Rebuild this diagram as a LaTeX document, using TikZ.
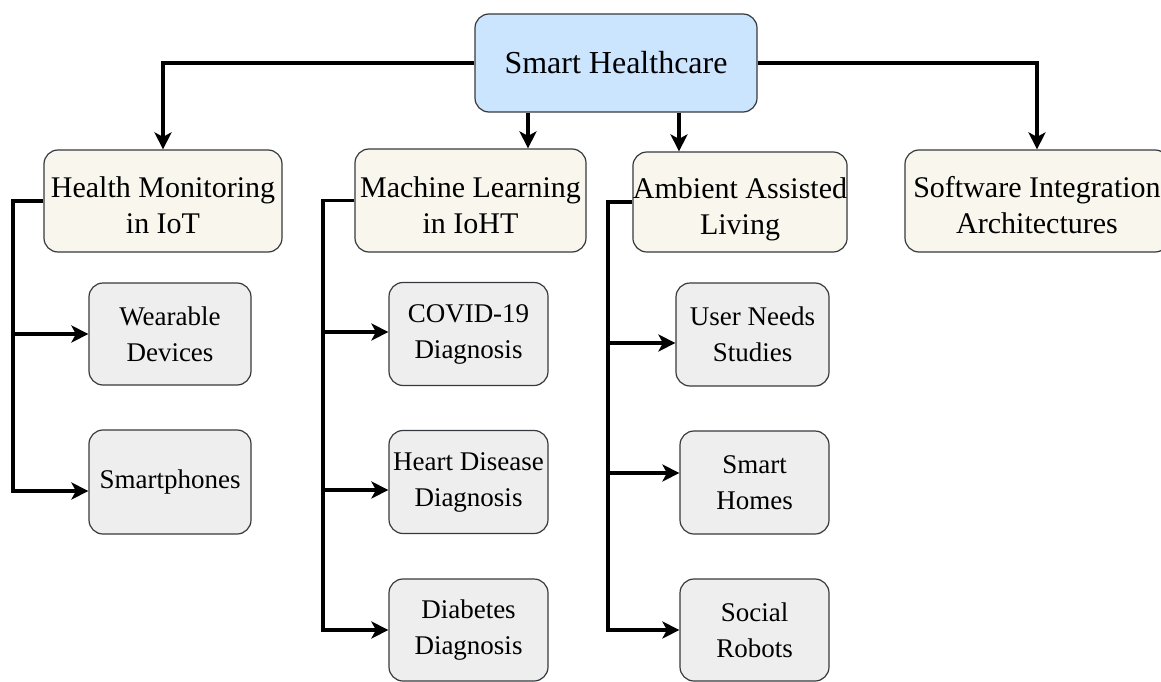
\documentclass[tikz,border=0pt]{standalone}
\usepackage{fontspec}
\setmainfont{Liberation Serif}
\usetikzlibrary{arrows.meta}
\definecolor{rootfill}{HTML}{CCE5FF}
\definecolor{lvlonefill}{HTML}{F9F7ED}
\definecolor{lvltwofill}{HTML}{EEEEEE}
\definecolor{boxline}{HTML}{36393D}
\newcommand{\hitop}{\rule{0pt}{37.5pt}}
\newcommand{\lobot}{\rule[-8pt]{0pt}{8pt}}
\begin{document}
\begin{tikzpicture}[x=1pt,y=-1pt,
  box/.style={draw=boxline, line width=1.2pt, rounded corners=14pt, align=center, inner sep=0pt, text=black},
  rootbox/.style={box, fill=rootfill, minimum width=282pt, minimum height=98pt, font=\fontsize{32}{38}\selectfont},
  topicbox/.style={box, fill=lvlonefill, font=\fontsize{30}{36}\selectfont},
  leafbox/.style={box, fill=lvltwofill, font=\fontsize{27}{36}\selectfont},
  conn/.style={line width=3.3pt, -{Stealth[length=17pt,width=17pt,inset=4.5pt]}},
]
\useasboundingbox (0,0) rectangle (1161,682);

% root
\node[rootbox] (root) at (616,63) {Smart Healthcare};

% level one
\node[topicbox, minimum width=238pt, minimum height=102pt] (hm) at (163,201) {\hitop Health Monitoring\\in IoT\lobot};
\node[topicbox, minimum width=231pt, minimum height=103pt] (ml) at (470.5,200.5) {\hitop Machine Learning\\in IoHT\lobot};
\node[topicbox, minimum width=204pt, minimum height=100pt] (aal) at (740,202) {\hitop Ambient Assisted\\Living\lobot};
\node[topicbox, minimum width=264pt, minimum height=102pt] (sia) at (1037,201) {\hitop Software Integration\\Architectures\lobot};

% level two
\node[leafbox, minimum width=162pt, minimum height=102pt] (wd) at (170,334) {Wearable\\Devices};
\node[leafbox, minimum width=162pt, minimum height=104pt] (sp) at (170,482) {Smartphones};
\node[leafbox, minimum width=159pt, minimum height=103pt] (cv) at (468.5,334) {COVID-19\\Diagnosis};
\node[leafbox, minimum width=159pt, minimum height=103pt] (hd) at (468.5,482) {Heart Disease\\Diagnosis};
\node[leafbox, minimum width=159pt, minimum height=102pt] (db) at (468.5,630) {Diabetes\\Diagnosis};
\node[leafbox, minimum width=153pt, minimum height=103pt] (un) at (752.5,334.5) {User Needs\\Studies};
\node[leafbox, minimum width=149pt, minimum height=103pt] (sh) at (754.5,482.5) {Smart\\Homes};
\node[leafbox, minimum width=149pt, minimum height=102pt] (sr) at (754.5,630) {Social\\Robots};

% coordinates for vertical lines
\coordinate (mlx) at (528,0);
\coordinate (aalx) at (679,0);
\coordinate (hmspine) at (13,0);
\coordinate (mlspine) at (323,0);
\coordinate (aalspine) at (608,0);

% arrow end points on the leaf boxes
\coordinate (spin) at ([yshift=-9pt]sp.west);
\coordinate (cvin) at ([yshift=2pt]cv.west);
\coordinate (hdin) at ([yshift=-8pt]hd.west);
\coordinate (unin) at ([yshift=-8.5pt]un.west);
\coordinate (shin) at ([yshift=9.5pt]sh.west);

% root connectors
\draw[conn] (root.west) -| (hm.north);
\draw[conn] (root.east) -| (sia.north);
\draw[conn] (root.south -| mlx) -- (ml.north -| mlx);
\draw[conn] (root.south -| aalx) -- (aal.north -| aalx);

% health monitoring branch
\draw[conn] (hm.west) -| (hmspine |- spin) -- (spin);
\draw[conn] (hmspine |- wd.west) -- (wd.west);

% machine learning branch
\draw[conn] (ml.west) -| (mlspine |- db.west) -- (db.west);
\draw[conn] (mlspine |- cvin) -- (cvin);
\draw[conn] (mlspine |- hdin) -- (hdin);

% ambient assisted living branch
\draw[conn] (aal.west) -| (aalspine |- sr.west) -- (sr.west);
\draw[conn] (aalspine |- unin) -- (unin);
\draw[conn] (aalspine |- shin) -- (shin);
\end{tikzpicture}
\end{document}
